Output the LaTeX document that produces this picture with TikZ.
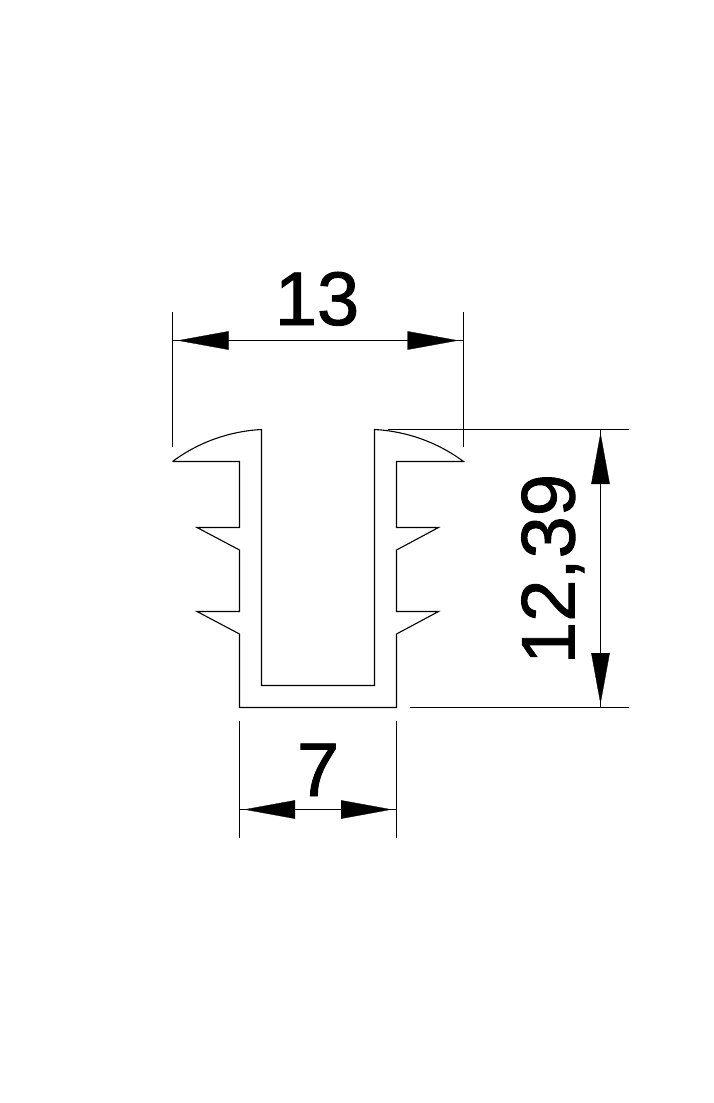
\documentclass[tikz,border=0pt]{standalone}
\usepackage{fontspec}
\setmainfont{Liberation Sans}
\newfontfamily\dimfont[FakeBold=1.2]{Liberation Sans}
\usetikzlibrary{arrows.meta}
\tikzset{
  outline/.style={draw=black,line width=1.1pt,line join=miter},
  dimline/.style={draw=black,line width=1.1pt},
  dimtip/.style={draw=black,line width=0.3pt,-{Triangle[length=51pt,width=18.5pt,fill=black]}},
  dimlabel/.style={anchor=base,inner sep=0pt,font=\dimfont\fontsize{76}{80}\selectfont,text=black}
}
\begin{document}
\begin{tikzpicture}[x=1pt,y=-1pt]
\path[use as bounding box,fill=white] (0,0) rectangle (714,1103);
% profile
\draw[outline] (172.5,461.5) -- (239.5,461.5) -- (239.5,527.5) -- (197,527.5) -- (239.5,550)
  -- (239.5,611.5) -- (197,611.5) -- (239.5,634) -- (239.5,707.5) -- (396.5,707.5)
  -- (396.5,634) -- (438.5,611.5) -- (396.5,611.5) -- (396.5,550) -- (438.5,527.5)
  -- (396.5,527.5) -- (396.5,461.5) -- (463.5,461.5)
  .. controls (436,441) and (404,431) .. (374.5,429.5)
  -- (374.5,685.5) -- (261.5,685.5) -- (261.5,429.5)
  .. controls (232,431) and (200,441) .. (172.5,461.5);
% coordinates
\coordinate (wL) at (172.5,340.5);
\coordinate (wR) at (463.5,340.5);
\coordinate (wLt) at (172.5,312);
\coordinate (wLb) at (172.5,447);
\coordinate (wRt) at (463.5,312);
\coordinate (wRb) at (463.5,447);
\coordinate (wLtip) at (177.5,340.5);
\coordinate (wLbase) at (228,340.5);
\coordinate (wRtip) at (458.5,340.5);
\coordinate (wRbase) at (408.5,340.5);
\coordinate (hT) at (600.5,429.5);
\coordinate (hB) at (600.5,707.5);
\coordinate (hTl) at (388,429.5);
\coordinate (hTr) at (629,429.5);
\coordinate (hBl) at (410,707.5);
\coordinate (hBr) at (629,707.5);
\coordinate (hTtip) at (600.5,433);
\coordinate (hTbase) at (600.5,486);
\coordinate (hBtip) at (600.5,704);
\coordinate (hBbase) at (600.5,652);
\coordinate (nL) at (239.5,809.5);
\coordinate (nR) at (396.5,809.5);
\coordinate (nLt) at (239.5,721);
\coordinate (nLb) at (239.5,838);
\coordinate (nRt) at (396.5,721);
\coordinate (nRb) at (396.5,838);
\coordinate (nLtip) at (244,809.5);
\coordinate (nLbase) at (296,809.5);
\coordinate (nRtip) at (392,809.5);
\coordinate (nRbase) at (340,809.5);
% dimension 13
\draw[dimline] (wLt) -- (wLb);
\draw[dimline] (wRt) -- (wRb);
\draw[dimline] (wL) -- (wR);
\draw[dimtip] (wLbase) -- (wLtip);
\draw[dimtip] (wRbase) -- (wRtip);
\node[dimlabel] (lw) at (317,325) {13};
% dimension 12,39
\draw[dimline] (hTl) -- (hTr);
\draw[dimline] (hBl) -- (hBr);
\draw[dimline] (hT) -- (hB);
\draw[dimtip] (hTbase) -- (hTtip);
\draw[dimtip] (hBbase) -- (hBtip);
\node[dimlabel,rotate=90] (lh) at (574.5,569) {12,39};
% dimension 7
\draw[dimline] (nLt) -- (nLb);
\draw[dimline] (nRt) -- (nRb);
\draw[dimline] (nL) -- (nR);
\draw[dimtip] (nLbase) -- (nLtip);
\draw[dimtip] (nRbase) -- (nRtip);
\node[dimlabel] (ln) at (318,796) {7};
\end{tikzpicture}
\end{document}
